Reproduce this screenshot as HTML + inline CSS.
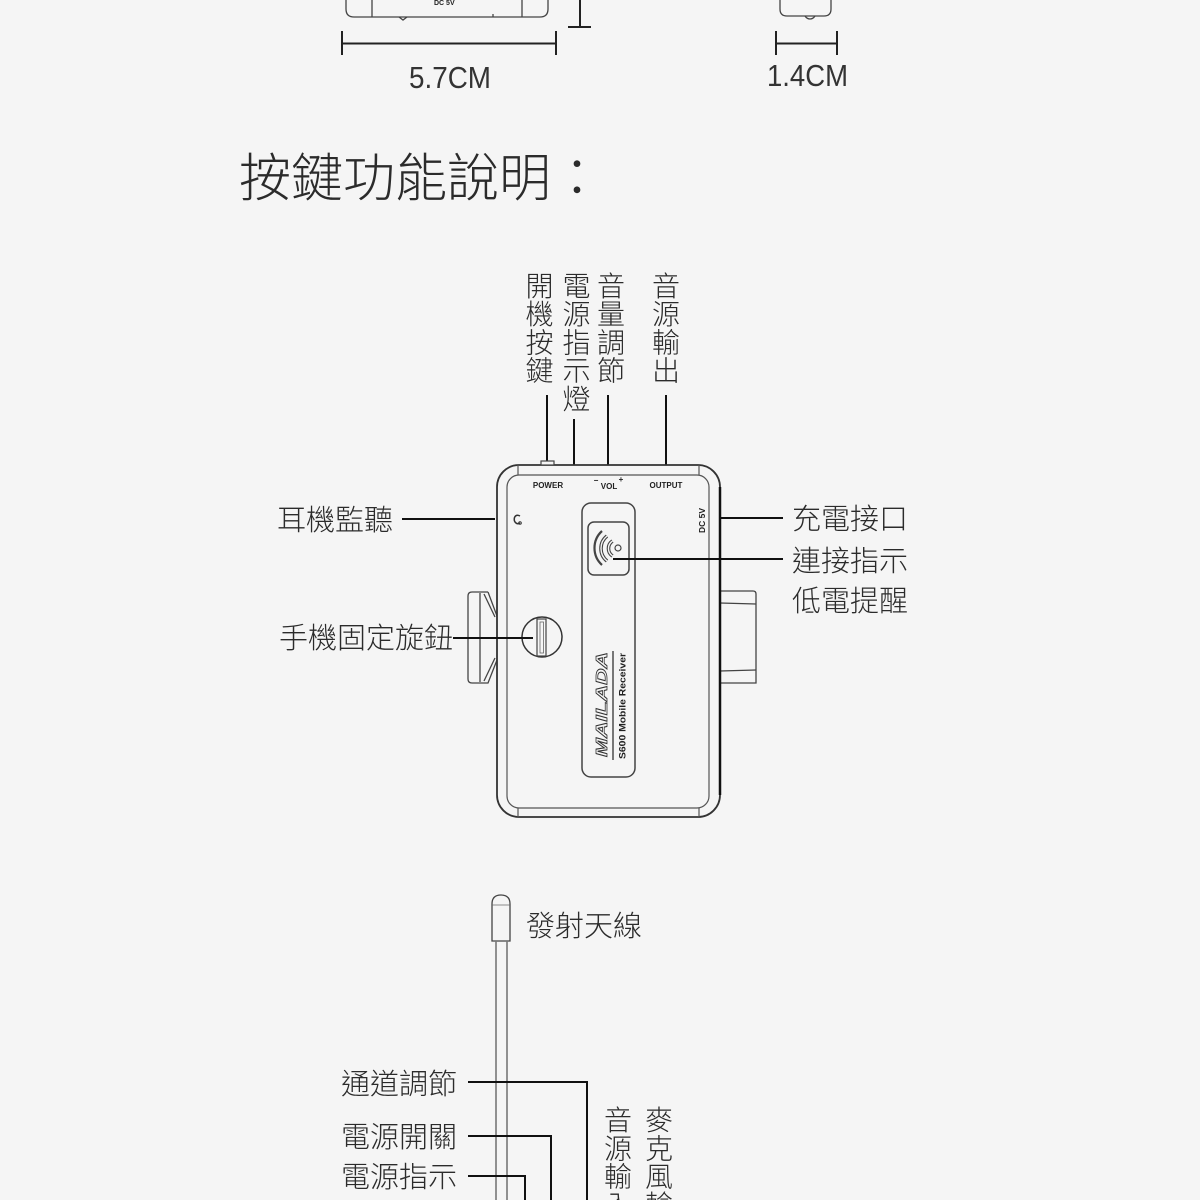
<!DOCTYPE html>
<html><head><meta charset="utf-8"><style>
html,body{margin:0;padding:0;background:#f5f5f5;}
svg{display:block;}
.cjk{font-family:"Liberation Sans","Noto Sans CJK TC",sans-serif;fill:#2b2b2b;font-weight:300;}
.lat{font-family:"Liberation Sans",sans-serif;fill:#333;}
.b{font-family:"Liberation Sans",sans-serif;font-weight:bold;fill:#222;}
</style></head><body>
<svg width="1200" height="1200" viewBox="0 0 1200 1200" xmlns="http://www.w3.org/2000/svg">
<rect width="1200" height="1200" fill="#f5f5f5"/>

<!-- top partial device drawings -->
<g fill="none" stroke="#444" stroke-width="1.3">
  <path d="M346 0 V9 Q346 17 354 17 H540 Q548 17 548 9 V0"/>
  <line x1="372" y1="0" x2="372" y2="17"/>
  <line x1="522" y1="0" x2="522" y2="17"/>
  <path d="M399 17 L403 20 L407 17"/>
  <line x1="493" y1="14" x2="493" y2="17"/>
  <path d="M780 0 V9 Q780 16 787 16 H824 Q831 16 831 9 V0"/>
  <path d="M805 16 Q807 19 810 19 Q813 19 815 16"/>
</g>
<text class="b" x="434" y="5" font-size="7">DC  5V</text>

<!-- T mark -->
<g stroke="#222" stroke-width="2">
  <line x1="580" y1="0" x2="580" y2="27"/>
  <line x1="568" y1="27" x2="591" y2="27"/>
</g>

<!-- dimension lines -->
<g stroke="#222" stroke-width="2">
  <line x1="342" y1="31" x2="342" y2="55"/>
  <line x1="556" y1="31" x2="556" y2="55"/>
  <line x1="342" y1="43.5" x2="556" y2="43.5"/>
  <line x1="776" y1="31" x2="776" y2="55"/>
  <line x1="837" y1="31" x2="837" y2="55"/>
  <line x1="776" y1="43.5" x2="837" y2="43.5"/>
</g>
<text class="lat" x="409" y="88" font-size="31" textLength="82" lengthAdjust="spacingAndGlyphs">5.7CM</text>
<text class="lat" x="767" y="86" font-size="31" textLength="81" lengthAdjust="spacingAndGlyphs">1.4CM</text>

<!-- heading -->
<text class="cjk" x="239" y="196.5" font-size="52" fill="#222">按鍵功能說明：</text>

<!-- top vertical labels -->
<g class="cjk" font-size="28" text-anchor="middle">
  <text x="539.5" y="296">開</text><text x="539.5" y="324.2">機</text><text x="539.5" y="352.4">按</text><text x="539.5" y="380.6">鍵</text>
  <text x="576.5" y="296">電</text><text x="576.5" y="324.2">源</text><text x="576.5" y="352.4">指</text><text x="576.5" y="380.6">示</text><text x="576.5" y="408.8">燈</text>
  <text x="611" y="296">音</text><text x="611" y="324.2">量</text><text x="611" y="352.4">調</text><text x="611" y="380.6">節</text>
  <text x="666" y="296">音</text><text x="666" y="324.2">源</text><text x="666" y="352.4">輸</text><text x="666" y="380.6">出</text>
</g>

<!-- connectors top -->
<g stroke="#111" stroke-width="2">
  <line x1="547" y1="395" x2="547" y2="462"/>
  <line x1="574" y1="419" x2="574" y2="465"/>
  <line x1="608" y1="395" x2="608" y2="465"/>
  <line x1="666" y1="395" x2="666" y2="465"/>
</g>

<!-- left knob -->
<g fill="none" stroke="#444" stroke-width="1.3">
  <path d="M488 592 H472 Q468 592 468 596 V679 Q468 683 472 683 H488 L497 660"/>
  <path d="M488 592 L497 616"/>
  <path d="M484 594 L495 617"/>
  <path d="M484 681 L495 658"/>
  <line x1="480" y1="593" x2="480" y2="682"/>
</g>

<!-- right clip -->
<g fill="none" stroke="#444" stroke-width="1.3">
  <path d="M720 591 H753 Q756 591 756 594 V683 H720"/>
  <line x1="720" y1="603" x2="756" y2="604"/>
  <line x1="720" y1="671" x2="756" y2="670"/>
</g>

<!-- main body -->
<rect x="497" y="465" width="223" height="352" rx="22" fill="#f5f5f5" stroke="#333" stroke-width="1.8"/>
<line x1="720" y1="487" x2="720" y2="795" stroke="#111" stroke-width="2.5"/>
<rect x="507" y="475" width="202" height="333" rx="12" fill="none" stroke="#555" stroke-width="1.2"/>
<g stroke="#555" stroke-width="1.2">
  <line x1="518" y1="465" x2="518" y2="475"/>
  <line x1="699" y1="465" x2="699" y2="475"/>
  <line x1="518" y1="808" x2="518" y2="817"/>
  <line x1="699" y1="808" x2="699" y2="817"/>
</g>

<!-- power button -->
<rect x="541" y="461" width="13" height="4" fill="#f5f5f5" stroke="#444" stroke-width="1.2"/>

<!-- top labels on device -->
<text class="b" x="548" y="488" font-size="8" text-anchor="middle">POWER</text>
<text class="b" x="609" y="489" font-size="8" text-anchor="middle">VOL</text>
<text class="b" x="596" y="483" font-size="8" text-anchor="middle">−</text>
<text class="b" x="621" y="482" font-size="8" text-anchor="middle">+</text>
<text class="b" x="666" y="488" font-size="8" text-anchor="middle">OUTPUT</text>

<!-- headphone icon -->
<path d="M520 516 Q516 514 514.5 517.5 Q513.5 521 516 523 Q518 524.5 520 523" fill="none" stroke="#333" stroke-width="1.5"/>
<circle cx="520" cy="523" r="1.3" fill="none" stroke="#333" stroke-width="1"/>

<!-- DC 5V rotated -->
<text class="b" font-size="8.5" transform="translate(705,533) rotate(-90)">DC  5V</text>

<!-- center panel -->
<rect x="582" y="503" width="53" height="274" rx="9" fill="none" stroke="#444" stroke-width="1.5"/>
<rect x="588" y="522" width="41" height="53" rx="6" fill="none" stroke="#444" stroke-width="1.5"/>
<circle cx="618" cy="548" r="3" fill="none" stroke="#444" stroke-width="1.2"/>
<g fill="none">
  <path d="M612.5 541 A9 9 0 0 0 612.5 556" stroke="#444" stroke-width="3.6"/>
  <path d="M612.5 541 A9 9 0 0 0 612.5 556" stroke="#f5f5f5" stroke-width="1.4"/>
  <path d="M607 536 A16 16 0 0 0 607 561" stroke="#444" stroke-width="3.6"/>
  <path d="M607 536 A16 16 0 0 0 607 561" stroke="#f5f5f5" stroke-width="1.4"/>
  <path d="M602 531 A23 23 0 0 0 602 565" stroke="#444" stroke-width="2.2"/>
</g>

<!-- logo -->
<text transform="translate(607,757) rotate(-90)" font-family="Liberation Sans,sans-serif" font-weight="bold" font-style="italic" font-size="16" fill="none" stroke="#333" stroke-width="0.8" textLength="105" lengthAdjust="spacingAndGlyphs">MAILADA</text>
<line x1="613" y1="651" x2="613" y2="760" stroke="#333" stroke-width="1.3"/>
<text class="b" transform="translate(625.5,759) rotate(-90)" font-size="9.5" textLength="106" lengthAdjust="spacingAndGlyphs">S600  Mobile  Receiver</text>

<!-- tuning knob circle -->
<circle cx="542" cy="637" r="20" fill="#f5f5f5" stroke="#333" stroke-width="1.5"/>
<rect x="537" y="619" width="9" height="37" fill="none" stroke="#444" stroke-width="1.2"/>
<rect x="540" y="622" width="3.5" height="31" fill="none" stroke="#666" stroke-width="0.8"/>

<!-- side connectors -->
<g stroke="#111" stroke-width="2">
  <line x1="402" y1="519" x2="495" y2="519"/>
  <line x1="453" y1="638" x2="533" y2="638"/>
  <line x1="721" y1="518" x2="783" y2="518"/>
  <line x1="613" y1="559" x2="783" y2="559"/>
</g>

<!-- side labels -->
<g class="cjk" font-size="29">
  <text x="277" y="530">耳機監聽</text>
  <text x="279" y="648">手機固定旋鈕</text>
  <text x="792" y="529">充電接口</text>
  <text x="792" y="571">連接指示</text>
  <text x="792" y="611">低電提醒</text>
</g>

<!-- antenna -->
<path d="M492 941 V904 Q492 895 501 895 Q510 895 510 904 V941 Z" fill="none" stroke="#444" stroke-width="1.3"/>
<line x1="492" y1="905" x2="510" y2="905" stroke="#666" stroke-width="0.8"/>
<g stroke="#777" stroke-width="1.6">
  <line x1="496" y1="941" x2="496" y2="1200"/>
  <line x1="507" y1="941" x2="507" y2="1200"/>
</g>
<text class="cjk" x="526" y="936" font-size="29">發射天線</text>

<!-- bottom connectors -->
<g fill="none" stroke="#111" stroke-width="2">
  <path d="M468 1082 H587 V1200"/>
  <path d="M468 1136 H551 V1200"/>
  <path d="M468 1176 H525 V1200"/>
</g>
<g class="cjk" font-size="29">
  <text x="341" y="1094">通道調節</text>
  <text x="341" y="1147">電源開關</text>
  <text x="341" y="1187">電源指示</text>
</g>
<g class="cjk" font-size="28" text-anchor="middle">
  <text x="618" y="1130">音</text><text x="618" y="1158.3">源</text><text x="618" y="1186.6">輸</text><text x="618" y="1214.9">入</text>
  <text x="659" y="1130">麥</text><text x="659" y="1158.3">克</text><text x="659" y="1186.6">風</text><text x="659" y="1214.9">輸</text>
</g>
</svg>
</body></html>
